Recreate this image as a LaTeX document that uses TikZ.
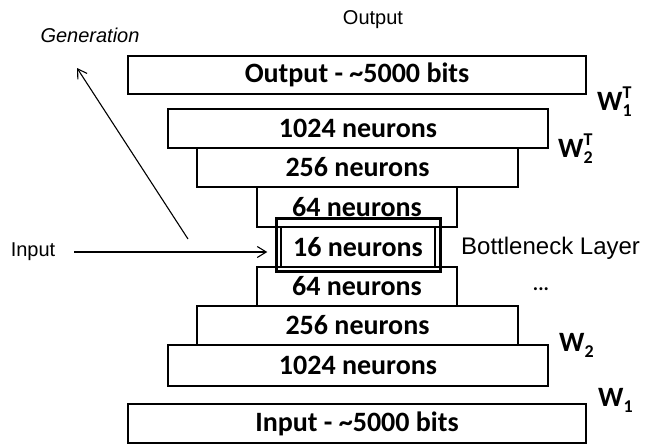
\documentclass[tikz,border=0pt]{standalone}
\usepackage{fontspec}
\setmainfont{Liberation Sans}
\newfontfamily\calib{Carlito}
\usetikzlibrary{arrows.meta,calc}
\tikzset{
  layer/.style={draw=black,line width=1.4pt,inner sep=0pt,font=\calib\bfseries\fontsize{28}{30}\selectfont}, % one layer of the net
  hilite/.style={draw=black,line width=2.6pt},
  lbl/.style={font=\fontsize{20}{22}\selectfont,inner sep=1pt},
  genlbl/.style={font=\fontsize{20}{22}\selectfont\itshape,inner sep=1pt},
  wlbl/.style={font=\calib\bfseries\fontsize{28}{30}\selectfont,inner sep=0pt,anchor=west},
  arr/.style={-{Straight Barb[length=9pt,width=11pt]},line width=1.1pt},
}
\newcommand{\wlab}[2]{% sub, sup
  W{\fontsize{18}{18}\selectfont\rlap{\raisebox{12pt}{#2}}\raisebox{-6pt}{#1}}%
}

\begin{document}
\begin{tikzpicture}[x=1pt,y=-1pt]
  \useasboundingbox (0,0) rectangle (648,445);
  % the stack, top to bottom
  \foreach \nm/\cx/\cy/\w/\h/\txt in {
      out/357/75/458/38/Output - \textasciitilde5000 bits,
      hAt/358/128.5/380/39/1024 neurons,
      hBt/357.5/167.5/321/39/256 neurons,
      hCt/357/207/200/40/64 neurons,
      bn/358/247/154/40/16 neurons,
      hCb/357/286.5/200/39/64 neurons,
      hBb/357.5/325.5/321/39/256 neurons,
      hAb/358/365.5/380/41/1024 neurons,
      in/357/423.5/458/39/Input - \textasciitilde5000 bits}
    \node[layer,minimum width=\w pt,minimum height=\h pt] (\nm) at (\cx,\cy) {\txt};
  \draw[hilite] ($(bn.north west)+(-4,-8)$) rectangle ($(bn.south east)+(5,4)$);

  \node[lbl] (outlbl) at (373,20) {Output};
  \node[genlbl] (genlbl) at (90,35) {Generation};
  \node[lbl] (inlbl) at (33,252) {Input};
  \node[lbl,anchor=west,font=\fontsize{24}{26}\selectfont] (bnlbl) at (460,248) {Bottleneck Layer};
  \node[lbl,font=\calib\bfseries\fontsize{20}{22}\selectfont] (dots) at (541,289) {...};
  \node[wlbl] (w1t) at (597,102) {\wlab{1}{T}};
  \node[wlbl] (w2t) at (558,149) {\wlab{2}{T}};
  \node[wlbl] (w2) at (559,345) {\wlab{2}{}};
  \node[wlbl] (w1) at (598,400) {\wlab{1}{}};

  \draw[arr,shorten <=18pt,shorten >=13pt] (inlbl.east) -- (bn.west |- inlbl.east);
  \coordinate (gfoot) at (188,239);
  \coordinate (gtip) at (77,68);
  \draw[arr] (gfoot) -- (gtip);
\end{tikzpicture}
\end{document}
